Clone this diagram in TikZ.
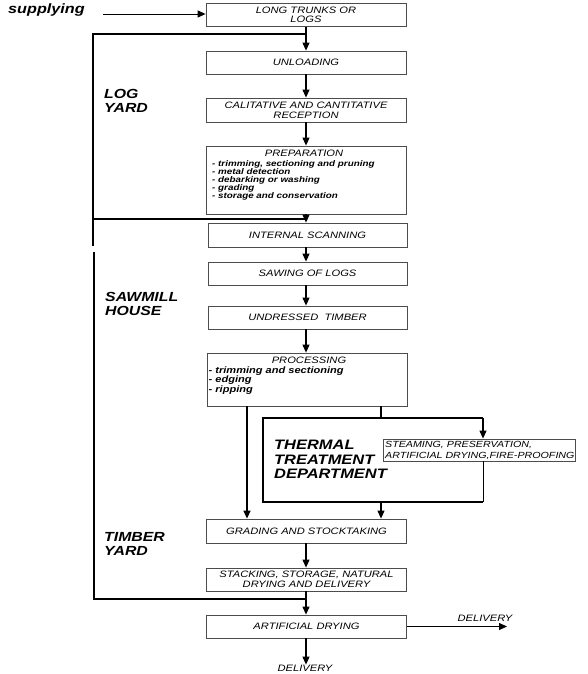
\documentclass[tikz,border=0pt]{standalone}
\usepackage{fontspec}
\newfontfamily\bx{Liberation Sans}[FakeStretch=1.2]
\usetikzlibrary{arrows.meta}
\tikzset{
  box/.style={draw=black!70, line width=0.8pt, minimum width=200pt, minimum height=24pt,
    inner sep=0pt, align=center, font=\bx\itshape\fontsize{9.3}{9.8}\selectfont},
  btext/.style={inner sep=0pt, font=\bx\itshape\fontsize{9.3}{9.8}\selectfont},
  arr/.style={-{Triangle[length=8pt,width=7pt]}, line width=1.1pt},
  lline/.style={line width=1.5pt},
  tline/.style={line width=2.2pt},
  lbl/.style={inner sep=0pt, anchor=west, align=left, font=\bx\bfseries\itshape\fontsize{13.2}{14}\selectfont},
  lst/.style={inner sep=0pt, align=left, font=\bx\bfseries\itshape\fontsize{8.2}{8}\selectfont},
}
\begin{document}
\begin{tikzpicture}[x=1pt,y=-1pt]
\useasboundingbox (0,0) rectangle (587,674);
% boxes
\node[box, minimum height=23.5pt] (trunks) at (306,14.75) {LONG TRUNKS OR\\LOGS};
\node[box, minimum height=23pt] (unload) at (306,62.5) {UNLOADING};
\node[box] (calit) at (306,110) {CALITATIVE AND CANTITATIVE\\RECEPTION};
\node[box, minimum height=68pt] (prep) at (306,180) {};
\node[btext] (prephead) at (304,153.5) {PREPARATION};
\node[lst, anchor=north west] (preplist) at (212,160) {- trimming, sectioning and pruning\\- metal detection\\- debarking or washing\\- grading\\- storage and conservation};
\node[box, minimum width=199pt] (scan) at (307.5,235) {INTERNAL SCANNING};
\node[box, minimum width=199pt, minimum height=23pt] (saw) at (307.5,273.5) {SAWING OF LOGS};
\node[box, minimum width=199pt, minimum height=23pt] (undr) at (307.5,317.5) {UNDRESSED\ \ TIMBER};
\node[box, minimum height=53pt] (proc) at (307,379.5) {};
\node[btext] (prochead) at (309,360.5) {PROCESSING};
\node[lst, anchor=north west, font=\bx\bfseries\itshape\fontsize{9.2}{9.6}\selectfont] (proclist) at (208.5,366.5) {- trimming and sectioning\\- edging\\- ripping};
\node[box, minimum width=192pt, minimum height=22pt] (steam) at (479,450) {};
\node[btext, anchor=west, align=left, font=\bx\itshape\fontsize{8.9}{10.5}\selectfont] (steamtext) at (385,450.5) {STEAMING, PRESERVATION,\\ARTIFICIAL DRYING,FIRE-PROOFING};
\node[box] (grad) at (306.5,531) {GRADING AND STOCKTAKING};
\node[box, minimum height=23pt] (stack) at (306.5,579.5) {STACKING, STORAGE, NATURAL\\DRYING AND DELIVERY};
\node[box, minimum height=23pt] (artif) at (306.5,626.5) {ARTIFICIAL DRYING};
\node[btext] (delb) at (305,668) {DELIVERY};
\node[btext] (delr) at (485,618.5) {DELIVERY};
% labels
\node[inner sep=0pt, anchor=base west, font=\bx\bfseries\itshape\fontsize{13.5}{15}\selectfont] (supp) at (8,14) {supplying};
\node[lbl] (logyard) at (104,100.5) {LOG\\YARD};
\node[lbl] (sawhouse) at (105,304) {SAWMILL\\HOUSE};
\node[lbl] (timberyard) at (104,543.5) {TIMBER\\YARD};
\node[lbl, font=\bx\bfseries\itshape\fontsize{13.7}{14.5}\selectfont] (thermal) at (274,459.5) {THERMAL\\TREATMENT\\DEPARTMENT};
% coordinates
\coordinate (s0) at (103,14);
\coordinate (j1) at (306,34);
\coordinate (l1a) at (93,34);
\coordinate (l1b) at (93,246);
\coordinate (l1c) at (93,219);
\coordinate (j2) at (306,219);
\coordinate (l2a) at (94,252);
\coordinate (l2b) at (94,599);
\coordinate (j3) at (306,599);
\coordinate (pl) at (247,406);
\coordinate (pr) at (381,406);
\coordinate (tTL) at (263,418);
\coordinate (tTR) at (483,418);
\coordinate (tBL) at (263,502);
\coordinate (tBR) at (483,502);
\coordinate (tBM) at (381,502);
\coordinate (tTM) at (381,418);
\coordinate (dr) at (507,626.5);
% connectors
\draw[arr, line width=0.9pt] (s0) -- (trunks.west |- s0);
\draw[arr] (trunks.south -| j1) -- (unload.north -| j1);
\draw[lline] (l1b) -- (l1a) -- (j1);
\draw[arr] (unload.south -| j1) -- (calit.north -| j1);
\draw[arr] (calit.south -| j1) -- (prep.north -| j1);
\draw[lline] (l1c) -- (j2);
\draw[arr] (prep.south -| j1) -- (scan.north -| j1);
\draw[arr] (scan.south -| j1) -- (saw.north -| j1);
\draw[arr] (saw.south -| j1) -- (undr.north -| j1);
\draw[arr] (undr.south -| j1) -- (proc.north -| j1);
\draw[arr, line width=1.4pt] (pl) -- (grad.north -| pl);
\draw[line width=1.3pt] (pr) -- (tTM);
\draw[tline] (tTR) -- (tTL) -- (tBL) -- (tBR);
\draw[arr] (tTR) -- (steam.north -| tTR);
\draw[line width=0.9pt] (steam.south -| tTR) -- (tBR);
\draw[arr] (tBM) -- (grad.north -| tBM);
\draw[arr] (grad.south -| j1) -- (stack.north -| j1);
\draw[lline] (l2a) -- (l2b) -- (j3);
\draw[arr] (stack.south -| j1) -- (artif.north -| j1);
\draw[arr] (artif.south -| j1) -- (delb.north -| j1);
\draw[arr, line width=0.8pt] (artif.east) -- (dr);
\end{tikzpicture}
\end{document}
